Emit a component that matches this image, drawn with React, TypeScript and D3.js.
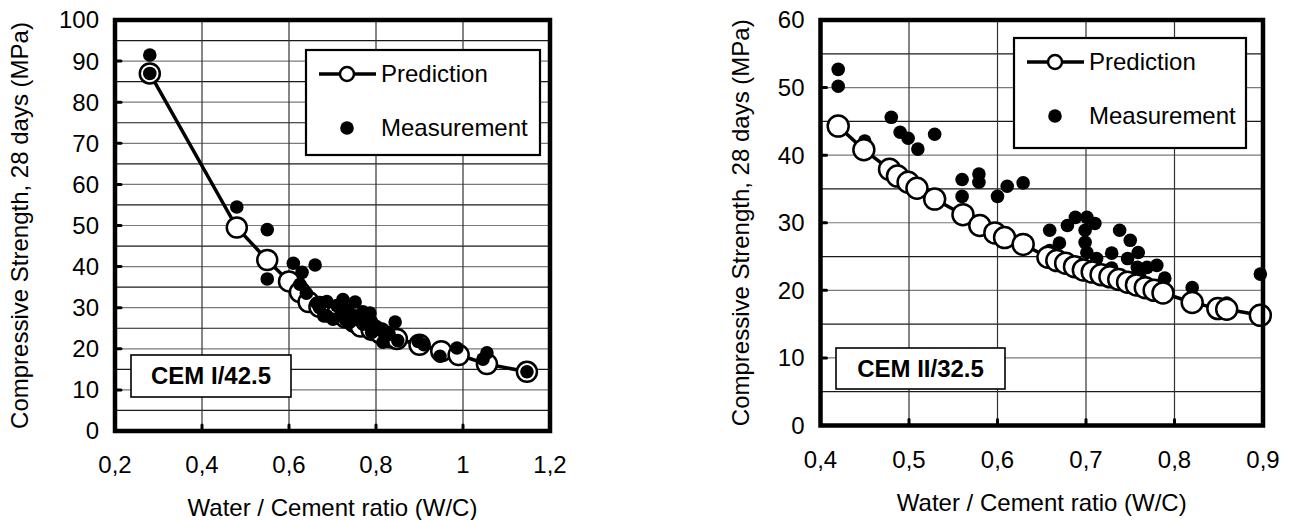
import * as d3 from "d3";

// CEM I/42.5 — prediction curve and measurements (w/c, MPa)
const predictionI: [number, number][] = [
  [0.28, 87], [0.48, 49.5], [0.55, 41.6], [0.6, 36.4], [0.625, 33.8], [0.645, 31.4],
  [0.67, 30.2], [0.69, 29.4], [0.71, 28.5], [0.73, 27.6], [0.75, 26.6], [0.765, 25.4],
  [0.79, 24.6], [0.81, 23.8], [0.832, 22.8], [0.848, 22.4], [0.9, 21], [0.95, 19.4],
  [0.99, 18.5], [1.055, 16.3], [1.147, 14.4],
];
const measurementI: [number, number][] = [
  [0.28, 91.5], [0.28, 87], [0.48, 54.5], [0.55, 49], [0.55, 37], [0.61, 40.8],
  [0.63, 38.6], [0.625, 35.7], [0.64, 33.5], [0.66, 40.4], [0.664, 31.1], [0.67, 30],
  [0.68, 28], [0.687, 31.5], [0.687, 28], [0.701, 27.2], [0.71, 30.5], [0.724, 32],
  [0.72, 28.5], [0.73, 27], [0.735, 29.5], [0.752, 31.4], [0.74, 26.5], [0.75, 28],
  [0.76, 27], [0.77, 26], [0.77, 29], [0.786, 28.7], [0.79, 26.5], [0.79, 24],
  [0.8, 25.5], [0.81, 24.5], [0.816, 21.6], [0.83, 23.5], [0.844, 26.5], [0.85, 22],
  [0.897, 21.8], [0.91, 21], [0.947, 18.2], [0.986, 20.2], [1.046, 17.5], [1.055, 19],
  [1.147, 14.4],
];

// CEM II/32.5
const predictionII: [number, number][] = [
  [0.42, 44.3], [0.449, 40.8], [0.478, 37.9], [0.487, 36.9], [0.499, 36], [0.509, 35.1],
  [0.529, 33.5], [0.561, 31.2], [0.58, 29.6], [0.597, 28.5], [0.608, 27.8], [0.629, 26.8],
  [0.657, 24.9], [0.667, 24.4], [0.677, 24], [0.687, 23.5], [0.697, 23], [0.707, 22.7],
  [0.717, 22.3], [0.727, 22], [0.737, 21.6], [0.747, 21.2], [0.757, 20.8], [0.767, 20.4],
  [0.777, 20], [0.787, 19.6], [0.82, 18.2], [0.849, 17.3], [0.859, 17.2], [0.897, 16.3],
];
const measurementII: [number, number][] = [
  [0.42, 52.7], [0.42, 50.2], [0.45, 42.1], [0.48, 45.6], [0.49, 43.4], [0.499, 42.5],
  [0.51, 40.9], [0.529, 43.1], [0.56, 36.4], [0.56, 33.9], [0.579, 37.2], [0.579, 36],
  [0.6, 33.9], [0.611, 35.4], [0.629, 35.9], [0.659, 28.9], [0.67, 27], [0.659, 25.9],
  [0.679, 29.6], [0.688, 30.8], [0.701, 30.8], [0.71, 29.9], [0.699, 28.9], [0.699, 27.1],
  [0.701, 25.6], [0.688, 23.7], [0.712, 24.7], [0.729, 25.5], [0.729, 23.3], [0.738, 28.9],
  [0.75, 27.4], [0.759, 25.6], [0.747, 24.7], [0.758, 23.4], [0.769, 23.4], [0.78, 23.7],
  [0.789, 21.8], [0.761, 21.9], [0.82, 20.4], [0.849, 17.5], [0.859, 18.1], [0.897, 22.4],
];

const xTicksI = [0.2, 0.4, 0.6, 0.8, 1, 1.2];
const xLabelsI = ["0,2", "0,4", "0,6", "0,8", "1", "1,2"];
const yTicksI = [0, 10, 20, 30, 40, 50, 60, 70, 80, 90, 100];
const xTicksII = [0.4, 0.5, 0.6, 0.7, 0.8, 0.9];
const xLabelsII = ["0,4", "0,5", "0,6", "0,7", "0,8", "0,9"];
const yTicksII = [0, 10, 20, 30, 40, 50, 60];

const FONT = "Liberation Sans, Arial, sans-serif";

type PanelProps = {
  x0: number; x1: number; y0: number; y1: number;
  xTicks: number[]; xLabels: string[]; yTicks: number[];
  prediction: [number, number][]; measurement: [number, number][];
  predOnTop: boolean; rPred: number;
  legend: { x: number; y: number; w: number; h: number };
  cem: { x: number; y: number; w: number; h: number; text: string };
  yTitleX: number;
};

function Panel(p: PanelProps) {
  const xs = d3.scaleLinear().domain([p.xTicks[0], p.xTicks[p.xTicks.length - 1]]).range([p.x0, p.x1]);
  const yMax = p.yTicks[p.yTicks.length - 1];
  const ys = d3.scaleLinear().domain([0, yMax]).range([p.y1, p.y0]);
  const minor = d3.range(5, yMax, 5);
  const line = d3.line<[number, number]>().x((d) => xs(d[0])).y((d) => ys(d[1]));

  const pred = (
    <g key="pred">
      <path d={line(p.prediction) ?? ""} fill="none" stroke="#000" strokeWidth={3.5} />
      {p.prediction.map((d, i) => (
        <circle key={i} cx={xs(d[0])} cy={ys(d[1])} r={p.rPred} fill="#fff" stroke="#000" strokeWidth={2.5} />
      ))}
    </g>
  );
  const meas = (
    <g key="meas">
      {p.measurement.map((d, i) => (
        <circle key={i} cx={xs(d[0])} cy={ys(d[1])} r={6.8} fill="#000" />
      ))}
    </g>
  );
  const L = p.legend;
  const midY = (p.y0 + p.y1) / 2;
  const midX = (p.x0 + p.x1) / 2;

  return (
    <g fontFamily={FONT}>
      {minor.map((v) => (
        <line key={"h" + v} x1={p.x0} x2={p.x1} y1={ys(v)} y2={ys(v)}
          stroke={v % 10 === 0 ? "#7a7a7a" : "#1a1a1a"} strokeWidth={1.2} />
      ))}
      {p.xTicks.slice(1, -1).map((v) => (
        <line key={"v" + v} x1={xs(v)} x2={xs(v)} y1={p.y0} y2={p.y1} stroke="#333" strokeWidth={1.2} />
      ))}
      {p.xTicks.slice(1, -1).map((v) => (
        <line key={"tx" + v} x1={xs(v)} x2={xs(v)} y1={p.y1} y2={p.y1 - 6} stroke="#000" strokeWidth={3} strokeLinecap="round" />
      ))}
      {p.yTicks.slice(1, -1).map((v) => (
        <line key={"ty" + v} x1={p.x0} x2={p.x0 + 6} y1={ys(v)} y2={ys(v)} stroke="#000" strokeWidth={3} strokeLinecap="round" />
      ))}

      {/* legend */}
      <rect x={L.x} y={L.y} width={L.w} height={L.h} fill="#fff" stroke="#000" strokeWidth={2.2} />
      <line x1={L.x + 13} x2={L.x + 70} y1={L.y + 24} y2={L.y + 24} stroke="#000" strokeWidth={3.5} />
      <circle cx={L.x + 41} cy={L.y + 24} r={7} fill="#fff" stroke="#000" strokeWidth={2.5} />
      <text x={L.x + 75} y={L.y + 24} dy="0.35em" fontSize={24}>Prediction</text>
      <circle cx={L.x + 41} cy={L.y + 78} r={6.8} fill="#000" />
      <text x={L.x + 75} y={L.y + 78} dy="0.35em" fontSize={24}>Measurement</text>

      {/* cement class */}
      <rect x={p.cem.x} y={p.cem.y} width={p.cem.w} height={p.cem.h} fill="#fff" stroke="#000" strokeWidth={1.6} />
      <text x={p.cem.x + p.cem.w / 2} y={p.cem.y + p.cem.h / 2} dy="0.35em" textAnchor="middle"
        fontSize={24} fontWeight="bold">{p.cem.text}</text>

      {p.predOnTop ? [meas, pred] : [pred, meas]}

      <rect x={p.x0} y={p.y0} width={p.x1 - p.x0} height={p.y1 - p.y0} fill="none" stroke="#000" strokeWidth={4.5} />

      {p.xTicks.map((v, i) => (
        <text key={"xl" + v} x={xs(v)} y={p.y1 + 34} dy="0.35em" textAnchor="middle" fontSize={24}>{p.xLabels[i]}</text>
      ))}
      {p.yTicks.map((v) => (
        <text key={"yl" + v} x={p.x0 - 16} y={ys(v)} dy="0.35em" textAnchor="end" fontSize={24}>{v}</text>
      ))}
      <text x={midX} y={p.y1 + 77} dy="0.35em" textAnchor="middle" fontSize={24}>Water / Cement ratio (W/C)</text>
      <text transform={`translate(${p.yTitleX},${midY}) rotate(-90)`} dy="0.35em" textAnchor="middle" fontSize={24}>
        Compressive Strength, 28 days (MPa)
      </text>
    </g>
  );
}

export default function App() {
  return (
    <svg width={1290} height={520} style={{ position: "absolute", left: 0, top: 0, background: "#fff" }}>
      <Panel x0={115} x1={550} y0={20} y1={431} xTicks={xTicksI} xLabels={xLabelsI} yTicks={yTicksI}
        prediction={predictionI} measurement={measurementI} predOnTop={false} rPred={10}
        legend={{ x: 306, y: 50, w: 234, h: 105 }}
        cem={{ x: 131, y: 355, w: 160, h: 42, text: "CEM I/42.5" }} yTitleX={20} />
      <Panel x0={820.5} x1={1263} y0={20} y1={425.5} xTicks={xTicksII} xLabels={xLabelsII} yTicks={yTicksII}
        prediction={predictionII} measurement={measurementII} predOnTop={true} rPred={10.5}
        legend={{ x: 1014, y: 38, w: 232, h: 110 }}
        cem={{ x: 836, y: 348, w: 169, h: 41, text: "CEM II/32.5" }} yTitleX={741} />
    </svg>
  );
}
